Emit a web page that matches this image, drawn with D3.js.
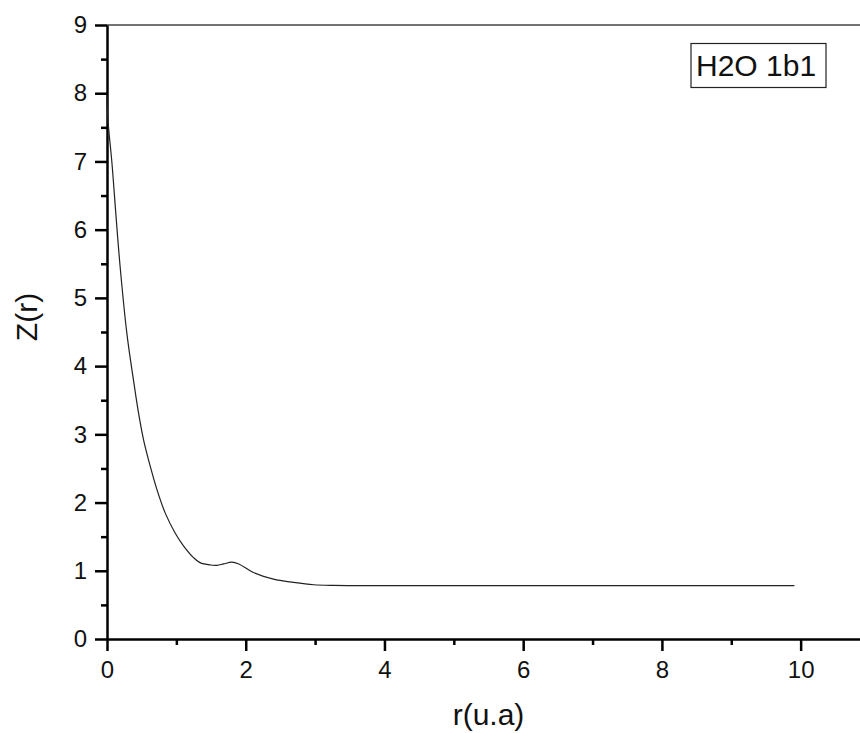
<!DOCTYPE html>
<html>
<head>
<meta charset="utf-8">
<script src="https://cdn.jsdelivr.net/npm/d3@7"></script>
<style>
  body { margin: 0; background: #fff; }
  text { font-family: "Liberation Sans", Arial, sans-serif; fill: #111; }
</style>
</head>
<body>
<div id="chart"></div>
<script>
// data
var rValues = [0, 0.01, 0.072, 0.12, 0.19, 0.29, 0.384, 0.455, 0.527, 0.624, 0.72, 0.84, 0.984, 1.10, 1.25, 1.34, 1.49, 1.585, 1.68, 1.80, 1.90, 2.11, 2.40, 2.69, 2.98, 3.27, 4, 6, 8, 9.91];
var zValues = [7.97, 7.65, 6.97, 6.33, 5.45, 4.45, 3.78, 3.31, 2.92, 2.53, 2.19, 1.845, 1.55, 1.37, 1.19, 1.12, 1.085, 1.08, 1.10, 1.127, 1.10, 0.975, 0.878, 0.83, 0.795, 0.785, 0.782, 0.782, 0.782, 0.782];
var xTicks = [0, 2, 4, 6, 8, 10];
var xMinor = [1, 3, 5, 7, 9];
var yTicks = [0, 1, 2, 3, 4, 5, 6, 7, 8, 9];
var yMinor = [0.5, 1.5, 2.5, 3.5, 4.5, 5.5, 6.5, 7.5, 8.5];
var legendLabel = "H2O 1b1";

function init(){
    var w = 860, h = 733;
    var left = 107, top = 25, bottom = 639, right = 870; // plot box (right side falls off the picture)

    var x = d3.scaleLinear().domain([0, 11]).range([left, right]);
    var y = d3.scaleLinear().domain([0, 9]).range([bottom, top]);

    var svg = d3.select("#chart").append("svg")
                .attr("width", w)
                .attr("height", h);

    // top frame line
    svg.append("line")
        .attr("x1", left).attr("x2", right)
        .attr("y1", top).attr("y2", top)
        .attr("stroke", "#444").attr("stroke-width", 1.5);

    // x axis
    var xAxis = svg.append("g")
        .attr("transform", `translate(0,${bottom})`)
        .call(d3.axisBottom(x).tickValues(xTicks).tickSize(12).tickSizeOuter(0).tickPadding(8));
    svg.append("g")
        .attr("transform", `translate(0,${bottom})`)
        .call(d3.axisBottom(x).tickValues(xMinor).tickSize(6).tickSizeOuter(0).tickFormat(""))
        .select(".domain").remove();

    // y axis
    var yAxis = svg.append("g")
        .attr("transform", `translate(${left},0)`)
        .call(d3.axisLeft(y).tickValues(yTicks).tickSize(12).tickSizeOuter(0).tickPadding(8));
    svg.append("g")
        .attr("transform", `translate(${left},0)`)
        .call(d3.axisLeft(y).tickValues(yMinor).tickSize(6).tickSizeOuter(0).tickFormat(""))
        .select(".domain").remove();

    svg.selectAll(".domain").attr("stroke", "#000").attr("stroke-width", 2.5);
    svg.selectAll(".tick line").attr("stroke", "#000").attr("stroke-width", 2.5);
    svg.selectAll(".tick text")
        .attr("font-size", 24)
        .style("font-family", '"Liberation Sans", Arial, sans-serif')
        .attr("fill", "#111");
    xAxis.selectAll(".tick text").attr("dy", "0.8em");

    // curve, drawn over the axis so its start at r=0 shows
    var pts = rValues.map(function(r, i){ return [r, zValues[i]]; });
    var line = d3.line()
                .x(function(d){ return x(d[0]); })
                .y(function(d){ return y(d[1]); })
                .curve(d3.curveCatmullRom.alpha(0.5));
    svg.append("path")
        .datum(pts)
        .attr("d", line)
        .attr("fill", "none")
        .attr("stroke", "#222")
        .attr("stroke-width", 1.2);

    // axis titles
    svg.append("text")
        .attr("x", (left + right) / 2)
        .attr("y", 725)
        .attr("text-anchor", "middle")
        .attr("font-size", 30)
        .text("r(u.a)");
    svg.append("text")
        .attr("transform", "translate(37,317) rotate(-90)")
        .attr("text-anchor", "middle")
        .attr("font-size", 30)
        .text("Z(r)");

    // legend box
    svg.append("rect")
        .attr("x", 691).attr("y", 43.5)
        .attr("width", 135).attr("height", 44)
        .attr("fill", "#fff")
        .attr("stroke", "#222").attr("stroke-width", 1.2);
    svg.append("text")
        .attr("x", 696).attr("y", 76)
        .attr("font-size", 30)
        .text(legendLabel);
}
window.onload = init;
</script>
</body>
</html>
